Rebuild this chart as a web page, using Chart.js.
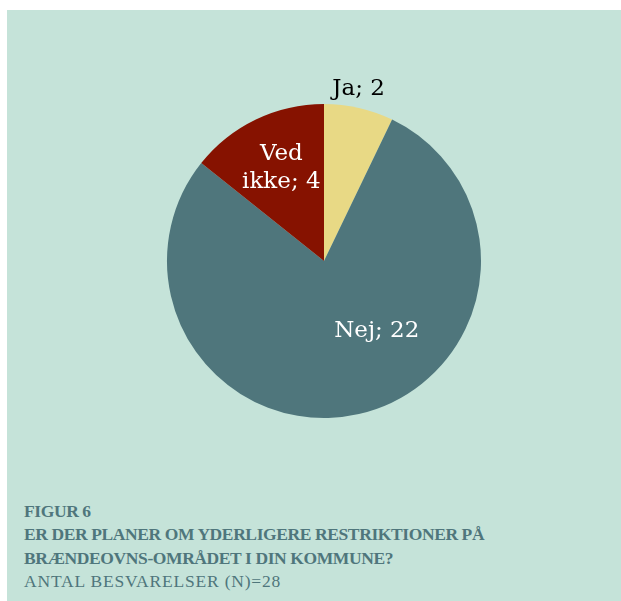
<!DOCTYPE html>
<html>
<head>
<meta charset="utf-8">
<script src="https://cdn.jsdelivr.net/npm/chart.js@4/dist/chart.umd.min.js"></script>
<style>
    body { margin: 0; background: #fff; }
    #panel { position: absolute; left: 7px; top: 10px; width: 614px; height: 591px; background: #C5E3D9; }
    #chartBox { position: absolute; left: 117px; top: 51px; width: 400px; height: 400px; }
    #caption { position: absolute; left: 17px; top: 490px; font-family: "Liberation Serif", serif; font-size: 17.5px; line-height: 23.3px; color: #4F767C; white-space: nowrap; }
    #caption .b { font-weight: bold; letter-spacing: -0.4px; }
    #caption .n { letter-spacing: 0.8px; }
</style>
</head>
<body>
<div id="panel">
    <div id="chartBox"><canvas id="pieChart"></canvas></div>
    <div id="caption">
        <div class="b">FIGUR 6</div>
        <div class="b">ER DER PLANER OM YDERLIGERE RESTRIKTIONER PÅ</div>
        <div class="b">BRÆNDEOVNS-OMRÅDET I DIN KOMMUNE?</div>
        <div class="n">ANTAL BESVARELSER (N)=28</div>
    </div>
</div>
<script>
const categories = ["Ja", "Nej", "Ved ikke"];
const answers = [2, 22, 4];
const sliceColors = ["#E8D985", "#4F767C", "#861200"];
const labelLines = [["Ja; 2"], ["Nej; 22"], ["Ved", "ikke; 4"]];

// label placement: angle shift (deg) from slice middle, distance as fraction of radius
const labelPlace = [
    { shift: -1.5, dist: 1.12, color: "#000" },
    { shift: -24, dist: 0.56, color: "#fff" },
    { shift: 1, dist: 0.65, color: "#fff" }
];

const sliceLabels = {
    id: "sliceLabels",
    afterDatasetsDraw(chart) {
        const ctx = chart.ctx;
        chart.getDatasetMeta(0).data.forEach((arc, i) => {
            const p = labelPlace[i];
            const mid = (arc.startAngle + arc.endAngle) / 2 + p.shift * Math.PI / 180;
            const r = arc.outerRadius * p.dist;
            const x = arc.x + Math.cos(mid) * r;
            const y = arc.y + Math.sin(mid) * r;
            const lines = labelLines[i];
            ctx.save();
            ctx.font = "23px 'DejaVu Serif'";
            ctx.fillStyle = p.color;
            ctx.textAlign = "center";
            ctx.textBaseline = "middle";
            lines.forEach((t, k) => {
                ctx.fillText(t, x, y + (k - (lines.length - 1) / 2) * 28);
            });
            ctx.restore();
        });
    }
};

new Chart(document.getElementById("pieChart"), {
    type: "pie",
    data: {
        labels: categories,
        datasets: [{
            data: answers,
            backgroundColor: sliceColors,
            borderWidth: 0
        }]
    },
    options: {
        responsive: true,
        maintainAspectRatio: false,
        animation: false,
        layout: { padding: 43 },
        plugins: {
            legend: { display: false },
            tooltip: { enabled: false }
        }
    },
    plugins: [sliceLabels]
});
</script>
</body>
</html>
